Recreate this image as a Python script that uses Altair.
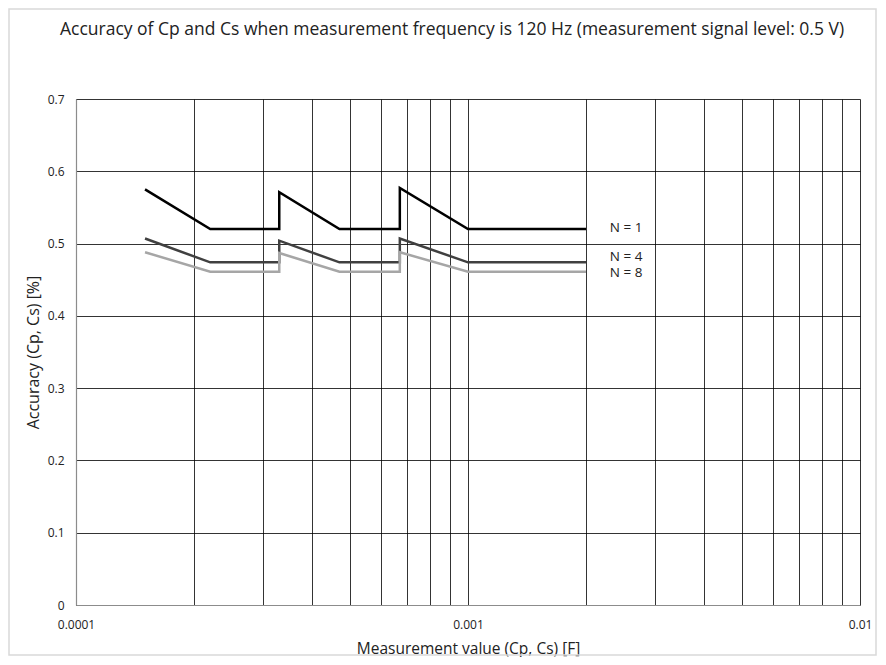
import altair as alt
import pandas as pd

# Data
x_n = [0.00015, 0.00022, 0.00033, 0.00033, 0.00047, 0.00067, 0.00067, 0.001, 0.002]
y_n1 = [0.575, 0.520, 0.520, 0.571, 0.520, 0.520, 0.577, 0.520, 0.520]
y_n4 = [0.507, 0.474, 0.474, 0.504, 0.474, 0.474, 0.507, 0.474, 0.474]
y_n8 = [0.488, 0.461, 0.461, 0.487, 0.461, 0.461, 0.488, 0.461, 0.461]
series = ["N = 1", "N = 4", "N = 8"]
colors = ["#000000", "#404040", "#a6a6a6"]
label_x = [0.0023, 0.0023, 0.0023]
label_y = [0.522, 0.482, 0.459]

x_grid = [m * 10.0 ** e for e in (-4, -3) for m in range(1, 10)] + [0.01]
y_ticks = [0, 0.1, 0.2, 0.3, 0.4, 0.5, 0.6, 0.7]

rows = []
for s, ys in zip(series, [y_n1, y_n4, y_n8]):
    for i, (xv, yv) in enumerate(zip(x_n, ys)):
        rows.append({"series": s, "x": xv, "y": yv, "order": i})
df = pd.DataFrame(rows)
lab = pd.DataFrame({"series": series, "x": label_x, "y": label_y})

FONT = "Open Sans"
W, H = 784, 506

xscale = alt.Scale(type="log", domain=[0.0001, 0.01])
yscale = alt.Scale(domain=[0, 0.7])

xaxis = alt.Axis(
    values=x_grid, format="~g",
    labelExpr="(datum.value==0.0001||datum.value==0.001||datum.value==0.01) ? datum.label : ''",
    grid=True, gridColor="#000000", gridWidth=0.8, gridOpacity=1,
    ticks=False, domainColor="#8c8c8c", domainWidth=1.2,
    labelPadding=14, labelFontSize=12, labelColor="#222", labelFlush=False,
    title="Measurement value (Cp, Cs) [F]", titleFontSize=15.5, titleFontWeight="normal",
    titleColor="#222", titleX=W / 2, titleY=48, titleBaseline="alphabetic", titleAlign="center",
)
yaxis = alt.Axis(
    values=y_ticks, format="~g", grid=True, gridColor="#000000", gridWidth=0.8, gridOpacity=1,
    ticks=False, domainColor="#8c8c8c", domainWidth=1.2,
    labelPadding=12, labelFontSize=12, labelColor="#222",
    title="Accuracy (Cp, Cs) [%]", titleFontSize=16, titleFontWeight="normal",
    titleColor="#222", titleX=-43, titleY=H / 2, titleAngle=-90,
    titleBaseline="middle", titleAlign="center",
)

lines = alt.Chart(df).mark_line(strokeWidth=2.5).encode(
    x=alt.X("x:Q", scale=xscale, axis=xaxis),
    y=alt.Y("y:Q", scale=yscale, axis=yaxis),
    color=alt.Color("series:N", scale=alt.Scale(domain=series, range=colors), legend=None),
    order="order:Q",
)

labels = alt.Chart(lab).mark_text(align="left", baseline="middle", fontSize=13.5, font=FONT, color="#222").encode(
    x=alt.X("x:Q", scale=xscale),
    y=alt.Y("y:Q", scale=yscale),
    text="series:N",
)

border = alt.Chart(alt.Data(values=[{}])).mark_rect(fill=None, stroke="#d9d9d9", strokeWidth=1.5).encode(
    x=alt.value(-67), x2=alt.value(800), y=alt.value(-90), y2=alt.value(556),
)

chart = alt.layer(border, lines, labels).properties(
    width=W, height=H,
    title=alt.TitleParams(
        "Accuracy of Cp and Cs when measurement frequency is 120 Hz (measurement signal level: 0.5 V)",
        fontSize=17.5, font=FONT, fontWeight="normal", color="#222", anchor="middle",
        dx=-16, offset=-44, frame="group", baseline="alphabetic",
    ),
    autosize=alt.AutoSizeParams(type="none"),
    padding={"left": 68, "top": 91, "right": 18, "bottom": 52},
).configure_view(stroke=None).configure_axis(labelFont=FONT, titleFont=FONT)

chart.save("out.html", embed_options={"renderer": "svg", "actions": False})
